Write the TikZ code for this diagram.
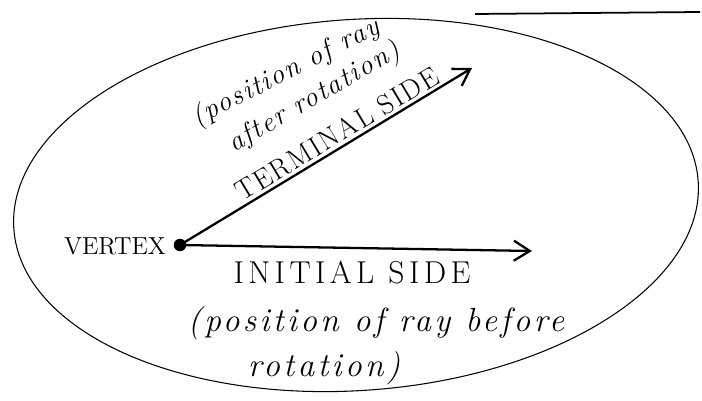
\documentclass[tikz,border=0pt]{standalone}
\usepackage{fontspec}
\setmainfont{Latin Modern Roman}
\usepackage{tikz}
\usetikzlibrary{calc,arrows.meta}
\usepackage{xcolor}

\begin{document}
\begin{tikzpicture}[
    ray/.style={line width=1.3pt, -{Straight Barb[length=3.2mm, width=4mm]}},
    caps/.style={font=\fontsize{18}{20}\selectfont\addfontfeature{LetterSpace=14}},
    hand/.style={font=\fontsize{19}{22}\selectfont\itshape\addfontfeature{LetterSpace=10}},
    slant/.style={font=\fontsize{16}{18}\selectfont\itshape\addfontfeature{LetterSpace=6}}]
  \useasboundingbox (0,0) rectangle (14.04,8);
  \draw[line width=0.6pt, rotate around={4:(7.12,3.9)}] (7.12,3.9) ellipse (6.86cm and 3.71cm);
  \draw[line width=1pt] (9.5,7.72) -- (14.0,7.76);
  \node[circle, fill, inner sep=0pt, minimum size=2.5mm] (vertex) at (3.6,3.1) {};
  \coordinate (initTip) at (10.64,2.98);
  \coordinate (termTip) at (9.44,6.64);
  \draw[ray] (vertex.center) -- (initTip);
  \draw[ray] (vertex.center) -- (termTip);
  \node[font=\fontsize{14}{16}\selectfont] (vtxLabel) at (2.3,3.08) {VERTEX};
  \node[caps] (initLabel) at (7.04,2.54) {INITIAL SIDE};
  \node[hand] (initBefore) at (7.52,1.54) {(position of ray before};
  \node[hand] (initRot) at (6.48,0.64) {rotation)};
  \node[font=\fontsize{16}{18}\selectfont\addfontfeature{LetterSpace=6}, rotate=31] (termLabel) at (6.74,5.33) {TERMINAL SIDE};
  \node[slant, rotate=30] (termAfter) at (6.29,6.04) {after rotation)};
  \node[slant, rotate=27] (termPos) at (5.72,6.54) {(position of ray};
\end{tikzpicture}
\end{document}
